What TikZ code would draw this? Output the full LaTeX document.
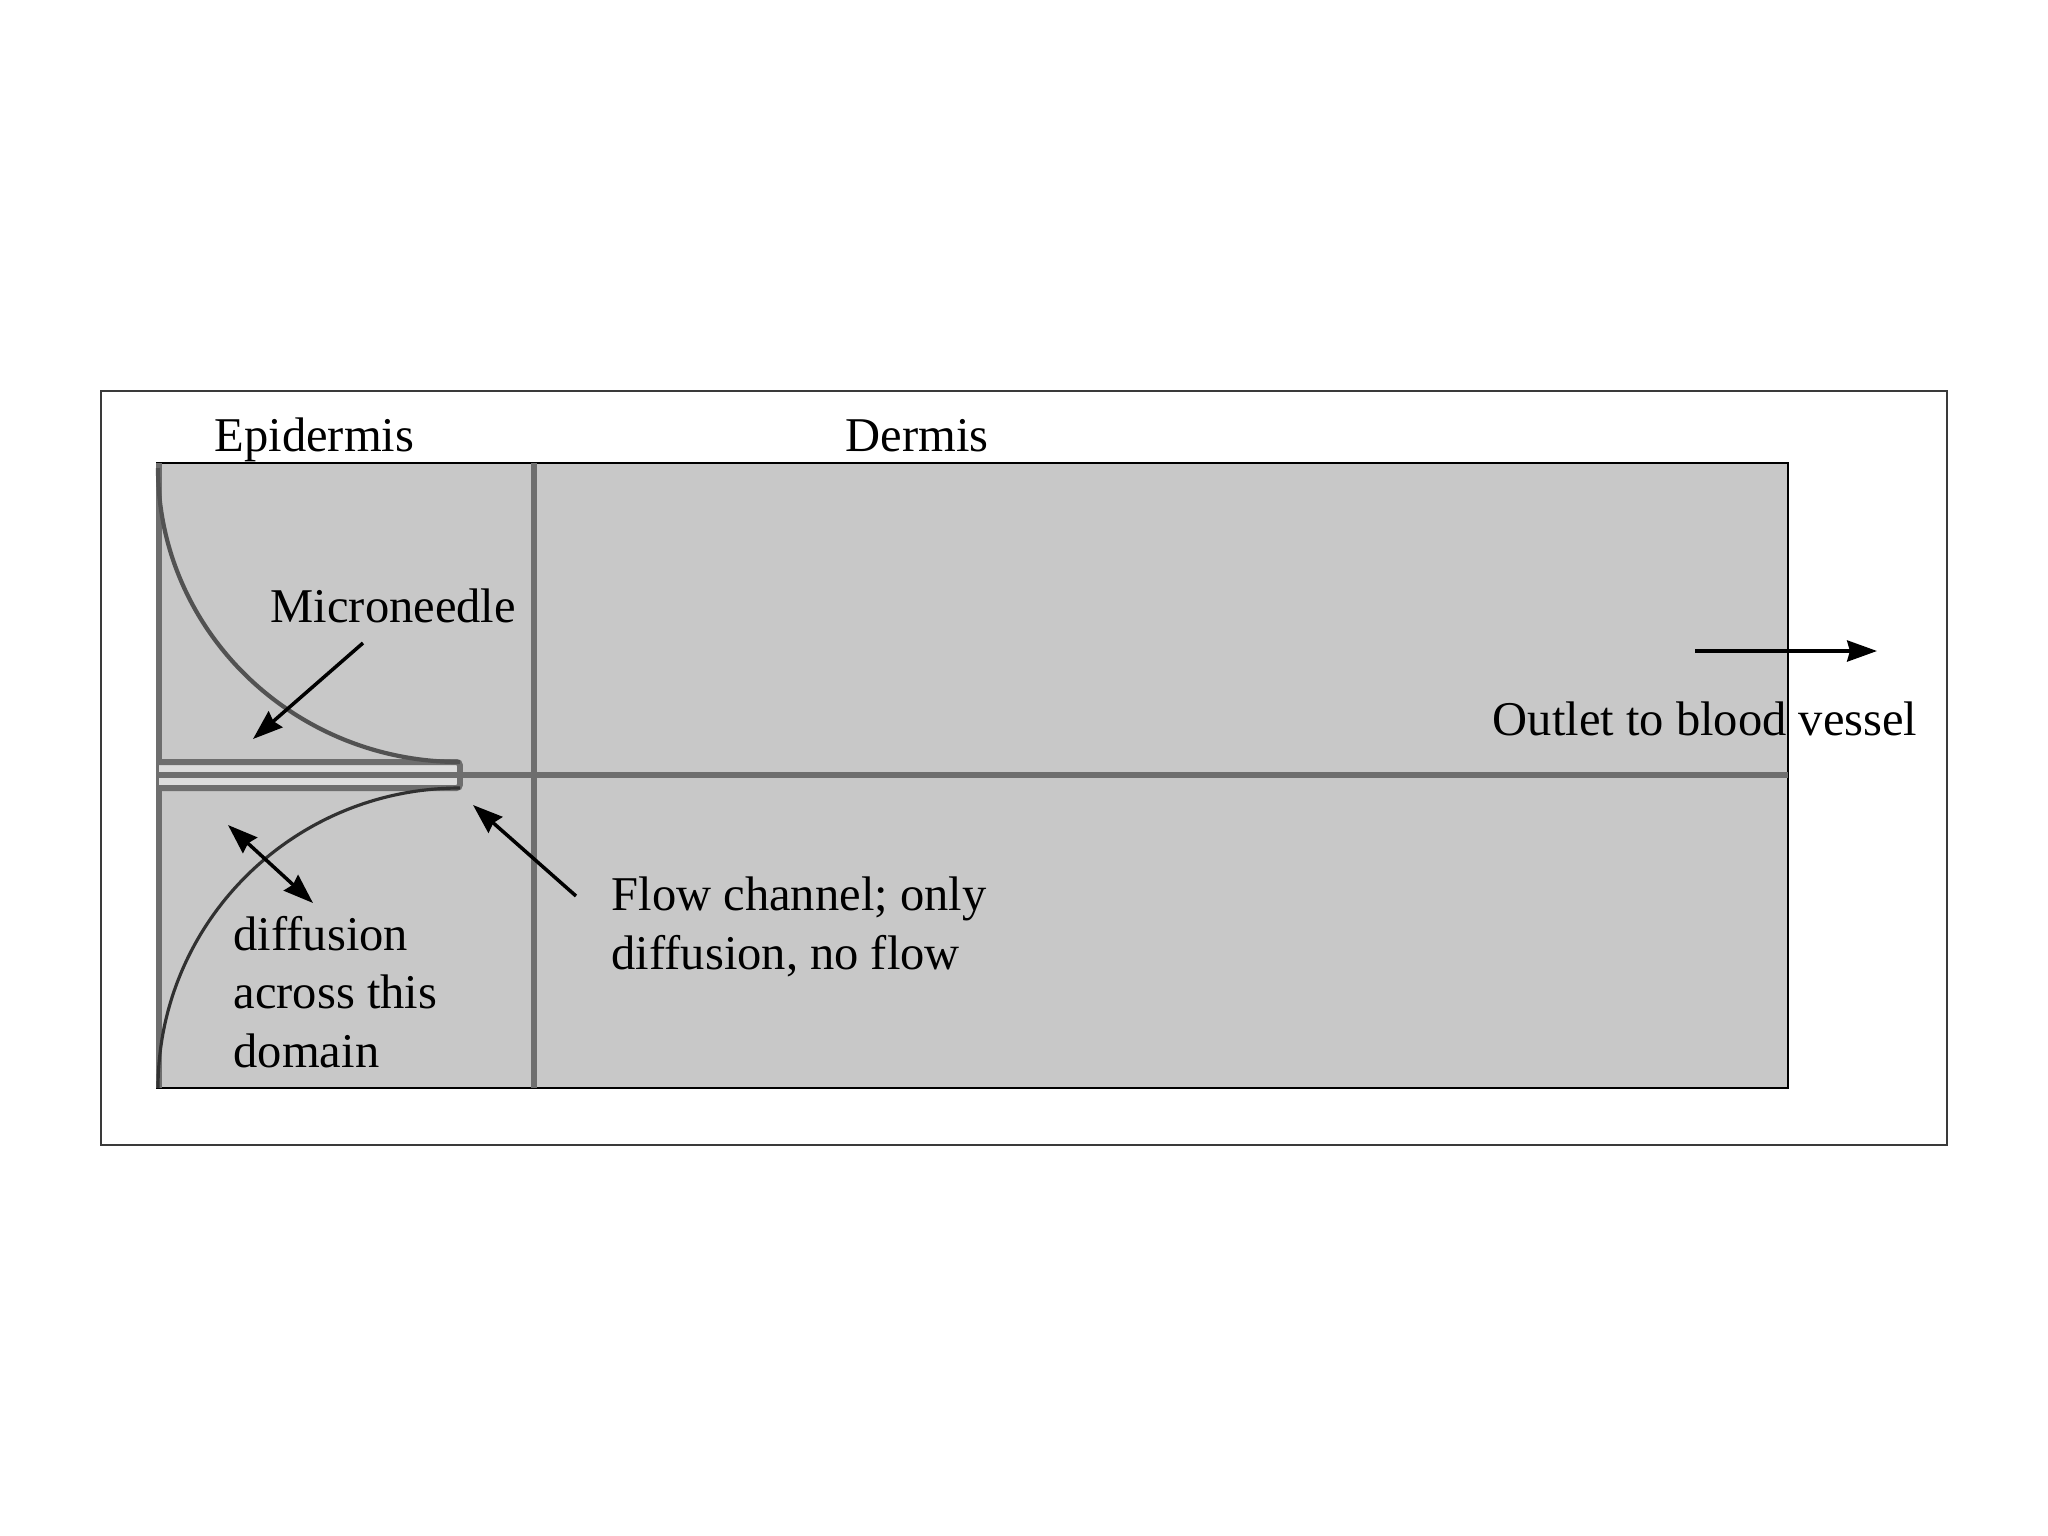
\documentclass[tikz,border=0pt]{standalone}
\usepackage{fontspec}
\setmainfont{Liberation Serif}
\usetikzlibrary{arrows.meta}
\definecolor{skinBg}{HTML}{C8C8C8}
\definecolor{skinLine}{HTML}{6E6E6E}
\definecolor{needleGap}{HTML}{DCDCDC}
\definecolor{frameInk}{HTML}{3A3A3A}
\tikzset{
  % Plain text label, placed by its (last) baseline
  lbl/.style={inner sep=0pt,anchor=base west,align=left,
    font=\fontsize{13.8}{16.5}\selectfont,text=black},
  % Arrows
  arr/.style={-{Stealth[length=8.5pt,width=6pt,inset=0.8pt]},line width=1pt,black},
  darr/.style={{Stealth[length=8.5pt,width=6pt,inset=0.8pt]}-{Stealth[length=8.5pt,width=6pt,inset=0.8pt]},
    line width=1pt,black},
  % Domain walls and boundaries
  wall/.style={line width=1.9pt,color=skinLine},
  bound/.style={line width=1.2pt,color=skinLine!75!black},
}
\begin{document}
\begin{tikzpicture}[x=0.01cm,y=0.01cm]
  \useasboundingbox (0,0) rectangle (2048,-1536);
  % frame and skin domain
  \draw[frameInk,line width=0.45pt] (101,-391) rectangle (1947,-1145);
  \fill[skinBg] (157,-463) rectangle (1788,-1088);
  \draw[black,line width=0.8pt] (157,-463) rectangle (1788,-1088);
  \draw[wall] (159,-463) -- (159,-1088);
  \draw[wall] (534,-463) -- (534,-1088);

  % needle and channel
  \draw[fill=needleGap,draw=skinLine,line width=1.7pt,rounded corners=1pt]
    (159,-762) -- (460,-762) -- (460,-788) -- (159,-788);
  \draw[wall] (159,-775) -- (1788,-775);

  % diffusion boundaries
  \draw[bound] (158,-468) arc[start angle=180,end angle=270,x radius=302,y radius=294];
  \draw[bound,color=skinLine!45!black,line width=0.9pt] (460,-788)
    arc[start angle=90,end angle=180,x radius=302,y radius=300];

  % labels
  \node[lbl] (epi) at (214,-451) {Epidermis};
  \node[lbl] (derm) at (845,-451) {Dermis};
  \node[lbl] (mn) at (270,-622) {Microneedle};
  \node[lbl] (outlet) at (1492,-735) {Outlet to blood vessel};
  \node[lbl] (flow) at (611,-969) {Flow channel; only\\diffusion, no flow};
  \node[lbl] (diff) at (233,-1067) {diffusion\\across this\\domain};

  % arrow ends
  \coordinate (mnTail) at (363,-643);
  \coordinate (mnHead) at (253,-739);
  \coordinate (diffA) at (228,-825);
  \coordinate (diffB) at (313,-903);
  \coordinate (flowTail) at (576,-896);
  \coordinate (flowHead) at (473,-805);
  \coordinate (outTail) at (1695,-651);
  \coordinate (outHead) at (1877,-651);

  \draw[arr] (mnTail) -- (mnHead);
  \draw[darr] (diffA) -- (diffB);
  \draw[arr] (flowTail) -- (flowHead);
  \draw[arr] (outTail) -- (outHead);
\end{tikzpicture}
\end{document}
